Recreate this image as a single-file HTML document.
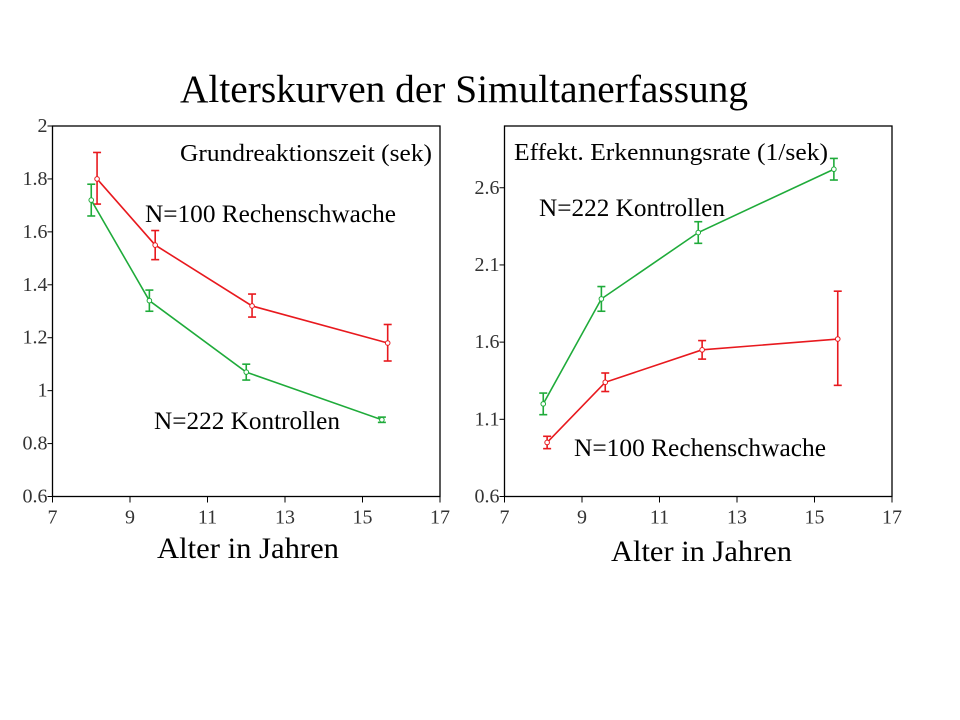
<!DOCTYPE html>
<html><head><meta charset="utf-8"><style>
html,body{margin:0;padding:0;background:#fff;}
svg{display:block;}
text{font-family:"Liberation Serif",serif;}
</style></head><body>
<svg id="s" width="960" height="720" xmlns="http://www.w3.org/2000/svg">
<text x="180" y="102" font-size="39" textLength="568" lengthAdjust="spacingAndGlyphs">Alterskurven der Simultanerfassung</text>
<text x="157" y="558" font-size="30" textLength="182" lengthAdjust="spacingAndGlyphs">Alter in Jahren</text>
<text x="611" y="561" font-size="30" textLength="181" lengthAdjust="spacingAndGlyphs">Alter in Jahren</text>
</svg>
<script>
var s=document.getElementById('s'),NS='http://www.w3.org/2000/svg';
function el(t,a,txt){var e=document.createElementNS(NS,t);for(var k in a)e.setAttribute(k,a[k]);if(txt)e.textContent=txt;s.appendChild(e);return e;}
function plot(x0,x1,y0,y1,ymin,ymax,yt,data,labels){
 el('rect',{x:x0,y:y0,width:x1-x0,height:y1-y0,fill:'none',stroke:'#000','stroke-width':1.3});
 var X=function(v){return x0+(v-7)/10*(x1-x0)},Y=function(v){return y1-(v-ymin)/(ymax-ymin)*(y1-y0)};
 for(var v=7;v<=17;v+=2){el('line',{x1:X(v),x2:X(v),y1:y1,y2:y1+6,stroke:'#000'});el('text',{x:X(v),y:y1+27,'font-size':20,'text-anchor':'middle',fill:'#333'},''+v);}
 yt.forEach(function(v){el('line',{x1:x0-5,x2:x0,y1:Y(v[0]),y2:Y(v[0]),stroke:'#000'});el('text',{x:x0-5,y:Y(v[0])+6,'font-size':20,'text-anchor':'end',fill:'#333'},v[1]);});
 data.forEach(function(d){
  var pts=d.p.map(function(p){return X(p[0])+','+Y(p[1])}).join(' ');
  el('polyline',{points:pts,fill:'none',stroke:d.c,'stroke-width':1.6});
  d.p.forEach(function(p){var x=X(p[0]);
   el('line',{x1:x,x2:x,y1:Y(p[2]),y2:Y(p[3]),stroke:d.c,'stroke-width':1.6});
   el('line',{x1:x-4,x2:x+4,y1:Y(p[2]),y2:Y(p[2]),stroke:d.c,'stroke-width':1.6});
   el('line',{x1:x-4,x2:x+4,y1:Y(p[3]),y2:Y(p[3]),stroke:d.c,'stroke-width':1.6});
   el('circle',{cx:x,cy:Y(p[1]),r:2.3,fill:'#fff',stroke:d.c,'stroke-width':1});
  });
 });
 labels.forEach(function(l){el('text',{x:l[0],y:l[1],'font-size':l[2],textLength:l[4],lengthAdjust:'spacingAndGlyphs'},l[3]);});
}
plot(52.5,440,126,496.5,0.6,2.0,[[0.6,'0.6'],[0.8,'0.8'],[1,'1'],[1.2,'1.2'],[1.4,'1.4'],[1.6,'1.6'],[1.8,'1.8'],[2,'2']],
[{c:'#e8191e',p:[[8.15,1.8,1.9,1.705],[9.65,1.55,1.605,1.495],[12.15,1.32,1.365,1.278],[15.65,1.18,1.25,1.112]]},
 {c:'#1fab3a',p:[[8.0,1.72,1.78,1.66],[9.5,1.34,1.38,1.30],[12.0,1.07,1.10,1.04],[15.5,0.89,0.90,0.88]]}],
[[180,161,24,'Grundreaktionszeit (sek)',252],[145,222,25,'N=100 Rechenschwache',251],[154,429,25,'N=222 Kontrollen',186]]);
plot(504.5,892,126,496.5,0.6,3.0,[[0.6,'0.6'],[1.1,'1.1'],[1.6,'1.6'],[2.1,'2.1'],[2.6,'2.6']],
[{c:'#1fab3a',p:[[8.0,1.2,1.27,1.13],[9.5,1.88,1.96,1.80],[12.0,2.31,2.38,2.24],[15.5,2.72,2.79,2.65]]},
 {c:'#e8191e',p:[[8.1,0.95,0.99,0.91],[9.6,1.34,1.40,1.28],[12.1,1.55,1.61,1.49],[15.6,1.62,1.93,1.32]]}],
[[514,160,24,'Effekt. Erkennungsrate (1/sek)',314],[539,216,25,'N=222 Kontrollen',186],[574,456,25,'N=100 Rechenschwache',252]]);
</script>
</body></html>
